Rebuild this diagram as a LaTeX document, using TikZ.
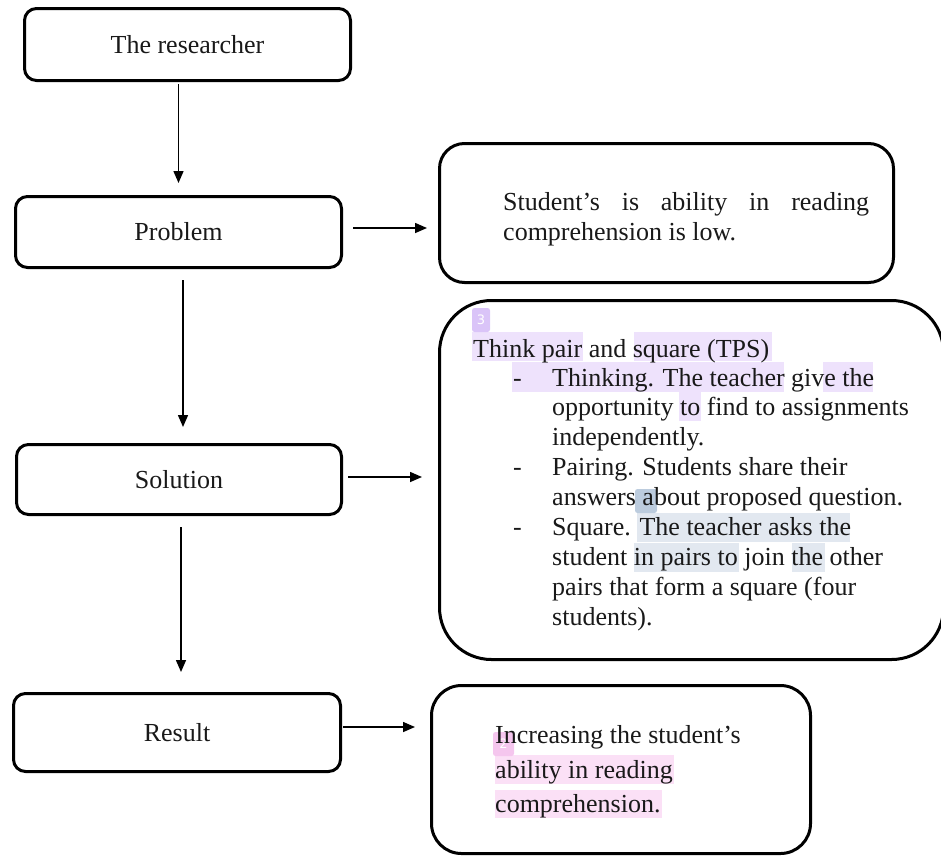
\documentclass[tikz,border=0pt]{standalone}
\usepackage{fontspec}
\setmainfont{Liberation Serif}
\newfontfamily\markfont{DejaVu Sans}
\usetikzlibrary{arrows.meta}
\definecolor{lav}{RGB}{238,226,252}
\definecolor{lavm}{RGB}{218,196,248}
\definecolor{pnk}{RGB}{251,224,246}
\definecolor{pnkm}{RGB}{245,198,238}
\definecolor{blu}{RGB}{226,232,240}
\definecolor{blum}{RGB}{188,204,222}
\definecolor{ink}{RGB}{25,25,25}
\begin{document}
\begin{tikzpicture}[x=1pt,y=-1pt,
  font=\fontsize{26}{30}\selectfont,
  lbox/.style={draw, line width=3pt, rounded corners=12pt, inner sep=0pt, text=ink},
  rbox/.style={draw, line width=3pt, inner sep=0pt},
  arr/.style={line width=1.5pt, -{Triangle[length=12pt,width=10pt]}},
  txt/.style={anchor=base west, inner sep=0pt, text=ink},
  marker/.style={rounded corners=2.5pt, inner sep=0pt, text=white,
    font=\markfont\fontsize{13}{13}\selectfont}]
\useasboundingbox (0,0) rectangle (941,857);
\clip (0,0) rectangle (941,857);

% highlights
\fill[lav] (472,332) rectangle (583,361);
\fill[lav] (634,332) rectangle (772,361);
\fill[lav] (512,362) rectangle (784,392);
\fill[lav] (823,362) rectangle (873,392);
\fill[lav] (679,392) rectangle (701,421);
\fill[blu] (637,513) rectangle (850,542);
\fill[blu] (634,543) rectangle (739,572);
\fill[blu] (792,543) rectangle (825,572);
\fill[pnk] (495,755) rectangle (674,784);
\fill[pnk] (495,790) rectangle (662,818);
\node[marker, fill=lavm, minimum width=18pt, minimum height=24pt] (m3) at (481,320) {3};
\node[marker, fill=blum, minimum width=22pt, minimum height=24pt] (m1) at (646,501) {};
\node[marker, fill=pnkm, minimum width=21pt, minimum height=24pt] (m2) at (503.5,744) {2};

% left column
\node[lbox, minimum width=326pt, minimum height=72pt] (res) at (187.5,44.5) {The researcher};
\node[lbox, minimum width=326pt, minimum height=71pt] (prob) at (178.5,232) {Problem};
\node[lbox, minimum width=325pt, minimum height=70pt] (sol) at (179,479.5) {Solution};
\node[lbox, minimum width=327pt, minimum height=78pt] (rslt) at (177,732.5) {Result};

% right column boxes
\node[rbox, rounded corners=25pt, minimum width=454pt, minimum height=139pt] (box1) at (666.5,213) {};
\node[rbox, rounded corners=52pt, minimum width=504pt, minimum height=359pt] (tps) at (691.5,480) {};
\node[rbox, rounded corners=30pt, minimum width=379pt, minimum height=168pt] (rbx) at (621,769.5) {};

% box1 text
\node[txt] (b1a) at (503,210) {\hbox to 366pt{Student’s\hfill is\hfill ability\hfill in\hfill reading}};
\node[txt] (b1b) at (503,240) {comprehension is low.};

% TPS text
\node[txt] (t0) at (473,357) {Think pair and square (TPS)};
\node[txt] (d1) at (513,386) {-};
\node[txt] (t1) at (552,386) {Thinking. The teacher give the};
\node[txt] (t2) at (552,415) {opportunity to find to assignments};
\node[txt] (t3) at (552,445) {independently.};
\node[txt] (d2) at (513,475) {-};
\node[txt] (t4) at (552,475) {Pairing. Students share their};
\node[txt] (t5) at (552,505) {answers about proposed question.};
\node[txt] (d3) at (513,535) {-};
\node[txt] (t6) at (552,535) {Square. The teacher asks the};
\node[txt] (t7) at (552,565) {student in pairs to join the other};
\node[txt] (t8) at (552,595) {pairs that form a square (four};
\node[txt] (t9) at (552,625) {students).};

% result box text
\node[txt] (r1) at (495,743) {Increasing the student’s};
\node[txt] (r2) at (495,778) {ability in reading};
\node[txt] (r3) at (495,812) {comprehension.};

% connectors
\draw[arr, shorten <=2pt, shorten >=12pt] (res.south -| prob.north) -- (prob.north);
\draw[arr, shorten <=11pt, shorten >=16pt] ([xshift=4.5pt]prob.south) -- ([xshift=4.5pt]prob.south |- sol.north);
\draw[arr, shorten <=11pt, shorten >=20pt] ([xshift=2pt]sol.south) -- ([xshift=2pt]sol.south |- rslt.north);
\draw[arr, shorten <=10pt, shorten >=11pt] ([yshift=4pt]prob.east) -- ([yshift=4pt]prob.east -| box1.west);
\draw[arr, shorten <=5pt, shorten >=16pt] ([yshift=2.5pt]sol.east) -- ([yshift=2.5pt]sol.east -| tps.west);
\draw[arr, shorten <=1pt, shorten >=15pt] ([yshift=5.5pt]rslt.east) -- ([yshift=5.5pt]rslt.east -| rbx.west);
\end{tikzpicture}
\end{document}
